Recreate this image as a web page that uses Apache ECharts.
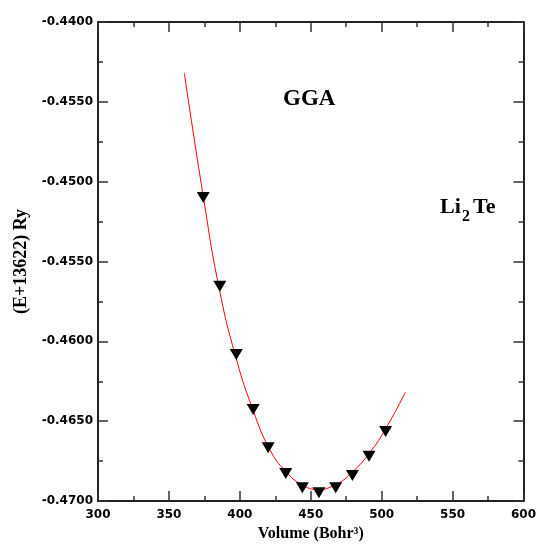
<!DOCTYPE html>
<html>
<head>
<meta charset="utf-8">
<script src="https://cdn.jsdelivr.net/npm/echarts@6/dist/echarts.min.js"></script>
<style>
  html, body { margin: 0; padding: 0; background: #fff; }
  #chart { width: 539px; height: 547px; }
</style>
</head>
<body>
<div id="chart"></div>
<script>
// computed points (volume in Bohr^3, energy E+13622 in Ry)
var volumes = [374.2, 385.9, 397.5, 409.4, 420.0, 432.4, 444.1, 455.8, 467.6, 479.4, 491.1, 502.8];
var energies = [-0.45099, -0.45655, -0.46082, -0.46427, -0.46667, -0.46828, -0.46917, -0.46948,
  -0.46917, -0.46840, -0.46719, -0.46565];

// fitted curve
var fitVolumes = [360.8, 374.2, 385.2, 397.0, 409.2, 421.1, 432.4, 443.7, 455.1, 466.9,
  477.5, 491.5, 503.3, 516.7];
var fitEnergies = [-0.44318, -0.45091, -0.45658, -0.46093, -0.46427, -0.46677,
  -0.46815, -0.46897, -0.46928, -0.46900, -0.46834, -0.46698, -0.46540, -0.46319];

// tick labels as printed (the second one from the top really says -0.4550)
var yTickLabels = ['-0.4700', '-0.4650', '-0.4600', '-0.4550', '-0.4500', '-0.4550', '-0.4400'];
var yMin = -0.47, yMax = -0.44, yStep = 0.005;
var xMin = 300, xMax = 600, xStep = 50;

var pts = volumes.map(function (v, i) { return [v, energies[i]]; });
var fit = fitVolumes.map(function (v, i) { return [v, fitEnergies[i]]; });

var labelFont = { fontFamily: 'DejaVu Sans', fontWeight: 'bold', fontSize: 12, color: '#000' };
var serif = 'Liberation Serif';

function frameAxis(extra) {
  var base = {
    axisLine: { show: true, onZero: false, lineStyle: { color: '#222', width: 2 } },
    axisTick: { show: true, inside: true, length: 10, lineStyle: { color: '#333', width: 1.5 } },
    minorTick: { show: true, splitNumber: 2, length: 5, lineStyle: { color: '#333', width: 1.5 } },
    splitLine: { show: false }
  };
  return Object.assign(base, extra);
}

var chart = echarts.init(document.getElementById('chart'));
chart.setOption({
  backgroundColor: '#fff',
  animation: false,
  grid: { left: 98, right: 15, top: 22, bottom: 45 },
  xAxis: [
    frameAxis({
      type: 'value', position: 'bottom', min: xMin, max: xMax, interval: xStep,
      axisLabel: Object.assign({ margin: 8 }, labelFont),
      name: 'Volume (Bohr³)', nameLocation: 'middle', nameGap: 25,
      nameTextStyle: { fontFamily: serif, fontWeight: 'bold', fontSize: 16, color: '#000' }
    }),
    frameAxis({
      type: 'value', position: 'top', min: xMin, max: xMax, interval: xStep,
      axisLabel: { show: false }
    })
  ],
  yAxis: [
    frameAxis({
      type: 'value', position: 'left', min: yMin, max: yMax, interval: yStep,
      axisLabel: Object.assign({
        margin: 5,
        formatter: function (v) {
          return yTickLabels[Math.round((v - yMin) / yStep)];
        }
      }, labelFont),
      name: '(E+13622) Ry', nameLocation: 'middle', nameGap: 60,
      nameTextStyle: { fontFamily: serif, fontWeight: 'bold', fontSize: 18, color: '#000' }
    }),
    frameAxis({
      type: 'value', position: 'right', min: yMin, max: yMax, interval: yStep,
      axisLabel: { show: false }
    })
  ],
  graphic: [
    { type: 'text', left: 283, top: 88,
      style: { text: 'GGA', fontFamily: serif, fontWeight: 'bold', fontSize: 23, fill: '#000' } },
    { type: 'text', left: 440, top: 196,
      style: { text: 'Li', fontFamily: serif, fontWeight: 'bold', fontSize: 22, fill: '#000' } },
    { type: 'text', left: 462, top: 209,
      style: { text: '2', fontFamily: serif, fontWeight: 'bold', fontSize: 16, fill: '#000' } },
    { type: 'text', left: 473, top: 196,
      style: { text: 'Te', fontFamily: serif, fontWeight: 'bold', fontSize: 22, fill: '#000' } }
  ],
  series: [
    {
      type: 'line', data: fit, smooth: 0.5, showSymbol: false,
      lineStyle: { color: '#ff0000', width: 1 }, z: 2
    },
    {
      type: 'scatter', data: pts, symbol: 'triangle', symbolRotate: 180,
      symbolSize: [13, 11], itemStyle: { color: '#000', opacity: 1 }, z: 3
    }
  ]
});
</script>
</body>
</html>
